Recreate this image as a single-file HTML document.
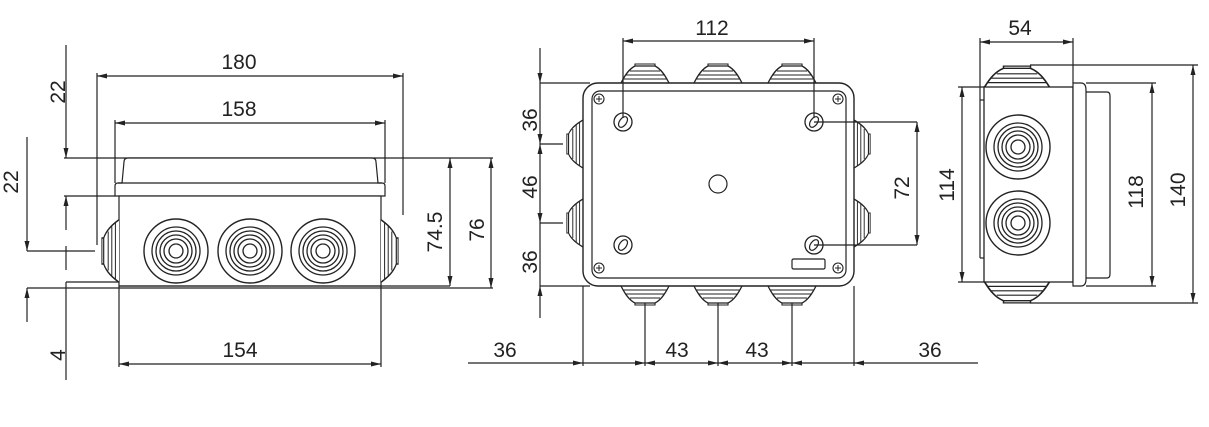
<!DOCTYPE html>
<html><head><meta charset="utf-8"><style>
html,body{margin:0;padding:0;background:#fff;}
svg{display:block}
text{font-family:"Liberation Sans",sans-serif;font-size:21px;fill:#222;}
</style></head><body>
<svg width="1209" height="427" viewBox="0 0 1209 427" xmlns="http://www.w3.org/2000/svg">
<defs>
<marker id="a" viewBox="0 0 10 6" refX="10" refY="3" markerWidth="10" markerHeight="6" orient="auto-start-reverse" markerUnits="userSpaceOnUse">
<path d="M0,0.5 L10,3 L0,5.5 z" fill="#222"/></marker>
<g id="gl">
<path d="M-24,0 C-20,-8 -16,-14 -10,-17 L10,-17 C16,-14 20,-8 24,0" fill="#fff" stroke="#222" stroke-width="1.3"/>
<path d="M-22,-4 H22 M-19,-8 H19 M-15,-12 H15 M-10,-17 V-19 H10 V-17" fill="none" stroke="#222" stroke-width="1.1"/>
</g>
<g id="cg">
<circle r="32" fill="#fff" stroke="#222" stroke-width="1.4"/>
<circle r="24" fill="none" stroke="#222" stroke-width="1.3"/>
<circle r="20" fill="none" stroke="#222" stroke-width="1.3"/>
<circle r="16" fill="none" stroke="#222" stroke-width="1.3"/>
<circle r="12" fill="none" stroke="#222" stroke-width="1.3"/>
<circle r="7" fill="none" stroke="#222" stroke-width="1.3"/>
</g>
<g id="sc"><circle r="5" fill="#fff" stroke="#222" stroke-width="1.1"/><path d="M-3,0H3M0,-3V3" stroke="#222" stroke-width="1"/></g>
<g id="ov"><circle r="9" fill="#fff" stroke="#222" stroke-width="1.3"/><ellipse rx="3.5" ry="6" transform="rotate(35)" fill="none" stroke="#222" stroke-width="1.2"/></g>
</defs>
<g stroke="#222" stroke-width="1.2" fill="none">
<!-- LEFT VIEW -->
<line x1="97" y1="76" x2="403" y2="76" marker-start="url(#a)" marker-end="url(#a)"/>
<line x1="97" y1="73" x2="97" y2="245"/>
<line x1="403" y1="73" x2="403" y2="215"/>
<line x1="115" y1="123" x2="385" y2="123" marker-start="url(#a)" marker-end="url(#a)"/>
<line x1="115" y1="120" x2="115" y2="183"/>
<line x1="385" y1="120" x2="385" y2="183"/>
<line x1="64" y1="158" x2="493" y2="158"/>
<line x1="64" y1="196" x2="115" y2="196"/>
<path d="M115,196 V186 Q115,183 118,183 H122 L124,162 Q124,158 128,158 H372 Q376,158 376,162 L378,183 H382 Q385,183 385,186 V196 Z" fill="#fff"/>
<line x1="118" y1="183" x2="382" y2="183"/>
<rect x="119" y="196" width="262" height="90" fill="#fff"/>
<line x1="27" y1="288" x2="493" y2="288"/>
<line x1="119" y1="286" x2="450" y2="286"/>
<line x1="66" y1="282" x2="119" y2="282"/>
<use href="#gl" transform="translate(119,251) rotate(-90) scale(1.3,0.9)"/>
<use href="#gl" transform="translate(381,251) rotate(90) scale(1.3,0.9)"/>
<use href="#cg" x="176" y="251"/><use href="#cg" x="250" y="251"/><use href="#cg" x="323" y="251"/>
<line x1="66" y1="45" x2="66" y2="158" marker-end="url(#a)"/>
<line x1="66" y1="196" x2="66" y2="230" marker-start="url(#a)"/>
<line x1="66" y1="246" x2="66" y2="270"/>
<line x1="66" y1="282" x2="66" y2="380"/>
<line x1="27" y1="137" x2="27" y2="251" marker-end="url(#a)"/>
<line x1="27" y1="251" x2="95" y2="251"/>
<line x1="27" y1="288" x2="27" y2="322" marker-start="url(#a)"/>
<line x1="119" y1="286" x2="119" y2="367"/>
<line x1="381" y1="286" x2="381" y2="367"/>
<line x1="119" y1="364" x2="381" y2="364" marker-start="url(#a)" marker-end="url(#a)"/>
<line x1="450" y1="158" x2="450" y2="286" marker-start="url(#a)" marker-end="url(#a)"/>
<line x1="491" y1="158" x2="491" y2="288" marker-start="url(#a)" marker-end="url(#a)"/>
<!-- MIDDLE VIEW -->
<use href="#gl" x="645" y="83"/><use href="#gl" x="718" y="83"/><use href="#gl" x="792" y="83"/>
<use href="#gl" transform="translate(645,286) rotate(180)"/><use href="#gl" transform="translate(718,286) rotate(180)"/><use href="#gl" transform="translate(792,286) rotate(180)"/>
<use href="#gl" transform="translate(583,144) rotate(-90) scale(1,0.85)"/><use href="#gl" transform="translate(583,223) rotate(-90) scale(1,0.85)"/>
<use href="#gl" transform="translate(854,144) rotate(90) scale(1,0.85)"/><use href="#gl" transform="translate(854,223) rotate(90) scale(1,0.85)"/>
<rect x="583" y="83" width="271" height="203" rx="15" fill="#fff" stroke-width="1.4"/>
<rect x="592" y="91" width="254" height="187" rx="8"/>
<use href="#sc" x="599" y="99"/><use href="#sc" x="838" y="99"/><use href="#sc" x="599" y="268"/><use href="#sc" x="838" y="268"/>
<use href="#ov" x="623" y="122"/><use href="#ov" x="814" y="122"/><use href="#ov" x="623" y="245"/><use href="#ov" x="814" y="245"/>
<circle cx="718" cy="184" r="9"/>
<rect x="792" y="259" width="33" height="10" rx="1.5"/>
<line x1="623" y1="41" x2="814" y2="41" marker-start="url(#a)" marker-end="url(#a)"/>
<line x1="623" y1="38" x2="623" y2="118"/><line x1="814" y1="38" x2="814" y2="118"/>
<line x1="540" y1="48" x2="540" y2="83" marker-end="url(#a)"/>
<line x1="540" y1="83" x2="540" y2="144" marker-end="url(#a)"/>
<line x1="540" y1="144" x2="540" y2="223" marker-start="url(#a)" marker-end="url(#a)"/>
<line x1="540" y1="223" x2="540" y2="286"/>
<line x1="540" y1="286" x2="540" y2="318" marker-start="url(#a)"/>
<line x1="540" y1="83" x2="590" y2="83"/><line x1="540" y1="144" x2="563" y2="144"/>
<line x1="540" y1="223" x2="563" y2="223"/><line x1="540" y1="286" x2="590" y2="286"/>
<line x1="814" y1="122" x2="917" y2="122"/><line x1="814" y1="245" x2="917" y2="245"/>
<line x1="917" y1="122" x2="917" y2="245" marker-start="url(#a)" marker-end="url(#a)"/>
<line x1="583" y1="286" x2="583" y2="366"/><line x1="854" y1="286" x2="854" y2="366"/>
<line x1="645" y1="303" x2="645" y2="366"/><line x1="718" y1="303" x2="718" y2="366"/><line x1="792" y1="303" x2="792" y2="366"/>
<line x1="468" y1="363" x2="583" y2="363" marker-end="url(#a)"/>
<line x1="583" y1="363" x2="645" y2="363" marker-end="url(#a)"/>
<line x1="645" y1="363" x2="718" y2="363" marker-start="url(#a)" marker-end="url(#a)"/>
<line x1="718" y1="363" x2="792" y2="363" marker-start="url(#a)" marker-end="url(#a)"/>
<line x1="792" y1="363" x2="854" y2="363" marker-start="url(#a)"/>
<line x1="854" y1="363" x2="978" y2="363" marker-start="url(#a)"/>
<!-- RIGHT VIEW -->
<use href="#gl" transform="translate(1017,87) scale(1.35,1.1)"/>
<use href="#gl" transform="translate(1017,282) rotate(180) scale(1.35,1.1)"/>
<rect x="984" y="87" width="89" height="195" fill="#fff" stroke-width="1.3"/>
<line x1="980" y1="100" x2="980" y2="258"/><line x1="980" y1="100" x2="984" y2="100"/><line x1="980" y1="258" x2="984" y2="258"/>
<path d="M1073,83 H1081 Q1086,83 1086,90 V279 Q1086,286 1081,286 H1073 Z" fill="#fff"/>
<path d="M1086,92 H1107 Q1110,92 1110,96 V274 Q1110,278 1107,278 H1086"/>
<use href="#cg" x="1018" y="147"/><use href="#cg" x="1018" y="223"/>
<line x1="980" y1="42" x2="1073" y2="42" marker-start="url(#a)" marker-end="url(#a)"/>
<line x1="980" y1="38" x2="980" y2="100"/><line x1="1073" y1="38" x2="1073" y2="83"/>
<line x1="958" y1="87" x2="984" y2="87"/><line x1="958" y1="282" x2="984" y2="282"/>
<line x1="962" y1="87" x2="962" y2="282" marker-start="url(#a)" marker-end="url(#a)"/>
<line x1="1030" y1="65" x2="1198" y2="65"/><line x1="1030" y1="303" x2="1198" y2="303"/>
<line x1="1086" y1="83" x2="1156" y2="83"/><line x1="1086" y1="286" x2="1156" y2="286"/>
<line x1="1152" y1="83" x2="1152" y2="286" marker-start="url(#a)" marker-end="url(#a)"/>
<line x1="1193" y1="65" x2="1193" y2="303" marker-start="url(#a)" marker-end="url(#a)"/>
</g>
<g text-anchor="middle">
<text x="239" y="69">180</text>
<text x="239" y="116">158</text>
<text x="240" y="357">154</text>
<text transform="translate(65,92) rotate(-90)">22</text>
<text transform="translate(18,182) rotate(-90)">22</text>
<text transform="translate(65,355) rotate(-90)">4</text>
<text transform="translate(442,232) rotate(-90)">74.5</text>
<text transform="translate(484,230) rotate(-90)">76</text>
<text x="712" y="35">112</text>
<text transform="translate(537,120) rotate(-90)">36</text>
<text transform="translate(537,187) rotate(-90)">46</text>
<text transform="translate(537,262) rotate(-90)">36</text>
<text transform="translate(909,188) rotate(-90)">72</text>
<text x="505" y="357">36</text>
<text x="677" y="357">43</text>
<text x="757" y="357">43</text>
<text x="930" y="357">36</text>
<text x="1020" y="35">54</text>
<text transform="translate(954,185) rotate(-90)">114</text>
<text transform="translate(1143,192) rotate(-90)">118</text>
<text transform="translate(1185,190) rotate(-90)">140</text>
</g>
</svg>
</body></html>
